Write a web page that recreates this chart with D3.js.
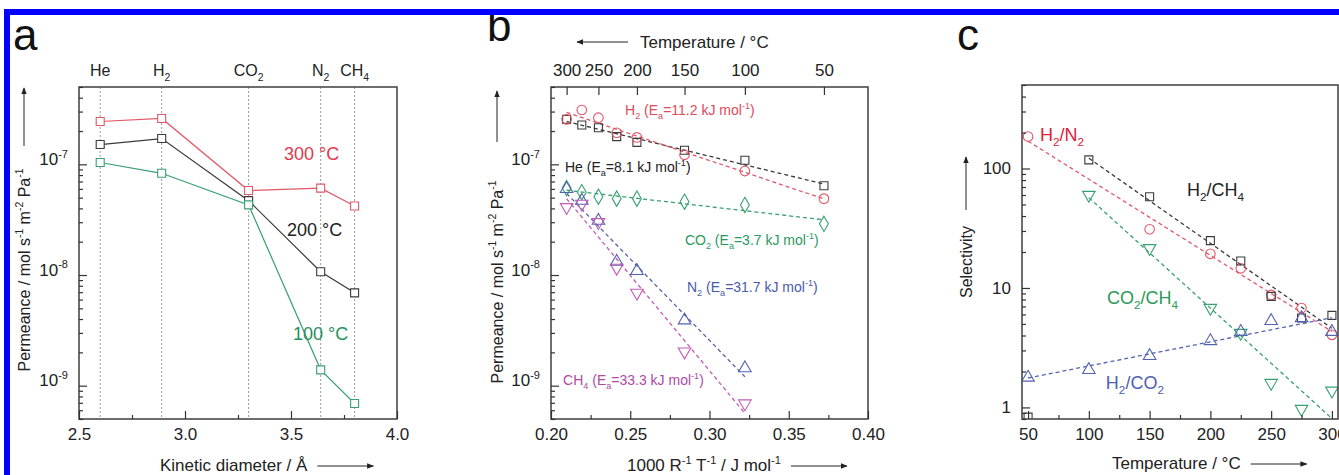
<!DOCTYPE html>
<html>
<head>
<meta charset="utf-8">
<script src="https://cdn.jsdelivr.net/npm/d3@7"></script>
<style>
body { margin: 0; background: #fff; }
svg { display: block; font-family: "Liberation Sans", Arial, sans-serif; }
</style>
</head>
<body>
<script>
// ---- panel a: permeance vs kinetic diameter
var gases = ["He", "H_{2}", "CO_{2}", "N_{2}", "CH_{4}"];
var kineticDiam = [2.6, 2.89, 3.3, 3.64, 3.8];
var perm300 = [2.44e-7, 2.6e-7, 5.8e-8, 6.1e-8, 4.2e-8];
var perm200 = [1.51e-7, 1.71e-7, 4.7e-8, 1.07e-8, 6.9e-9];
var perm100 = [1.04e-7, 8.3e-8, 4.3e-8, 1.39e-9, 6.9e-10];

// ---- panel b: Arrhenius plot
var tempsB = [300, 275, 250, 225, 200, 150, 100, 50];
var permHe = [2.55e-7, 2.27e-7, 2.14e-7, 1.78e-7, 1.58e-7, 1.34e-7, 1.09e-7, 6.4e-8];
var permH2 = [2.55e-7, 3.1e-7, 2.64e-7, 1.93e-7, 1.75e-7, 1.22e-7, 8.7e-8, 4.9e-8];
var permCO2 = [6.1e-8, 5.6e-8, 5.1e-8, 4.9e-8, 4.9e-8, 4.6e-8, 4.3e-8, 2.9e-8];
var permN2 = [6.0e-8, 4.7e-8, 3.1e-8, 1.32e-8, 1.09e-8, 3.9e-9, 1.44e-9, null];
var permCH4 = [4.1e-8, 4.4e-8, 3.0e-8, 1.16e-8, 6.9e-9, 2.03e-9, 6.9e-10, null];
var topTemps = [300, 250, 200, 150, 100, 50];

// ---- panel c: selectivity vs temperature
var tempsC = [50, 100, 150, 200, 225, 250, 275, 300];
var selH2N2 = [185, null, 31, 19.3, 14.6, 8.75, 6.8, 4.05];
var selH2CH4 = [0.83, 118, 58, 24.9, 16.8, 8.5, 5.6, 5.9];
var selCO2CH4 = [null, 60, 21.5, 6.8, 4.2, 1.6, 0.97, 1.38];
var selH2CO2 = [1.78, 2.06, 2.7, 3.6, 4.3, 5.3, 5.6, 4.3];

var RED = "#e05868", BLACK = "#3a3a3a", GREEN = "#38a070", BLUE = "#5463b0", MAGENTA = "#c25bb5";

var svg = d3.select("body").append("svg")
    .attr("width", 1339)
    .attr("height", 475);

var defs = svg.append("defs");
defs.append("marker")
    .attr("id", "arrow")
    .attr("viewBox", "0 0 10 10")
    .attr("refX", 9).attr("refY", 5)
    .attr("markerWidth", 7).attr("markerHeight", 7)
    .attr("markerUnits", "userSpaceOnUse")
    .attr("orient", "auto")
    .append("path")
    .attr("d", "M0,1L10,5L0,9Z")
    .attr("fill", "#222");

function invRT(t) {
    return 1000 / (8.314 * (t + 273.15));
}

// text with _{sub} and ^{sup}
function rich(sel, str, size) {
    sel.text(null);
    var parts = str.split(/([_^]\{[^}]*\})/).filter(function (s) { return s.length; });
    var shift = 0;
    parts.forEach(function (p) {
        var target = 0, txt = p, small = false;
        if (p[0] === "_" && p[1] === "{") { target = size * 0.3; txt = p.slice(2, -1); small = true; }
        else if (p[0] === "^" && p[1] === "{") { target = -size * 0.42; txt = p.slice(2, -1); small = true; }
        var t = sel.append("tspan").attr("dy", target - shift).text(txt);
        if (small) t.attr("font-size", size * 0.65);
        shift = target;
    });
}

function logMinors(lo, hi) {
    var out = [];
    for (var e = -11; e <= 3; e++) {
        for (var k = 2; k <= 9; k++) {
            var v = k * Math.pow(10, e);
            if (v >= lo && v <= hi) out.push(v);
        }
    }
    return out;
}

function logFit(xs, ys) {
    var pts = xs.map(function (x, i) { return [x, ys[i]]; })
        .filter(function (d) { return d[1] != null; });
    var mx = d3.mean(pts, function (d) { return d[0]; });
    var my = d3.mean(pts, function (d) { return Math.log10(d[1]); });
    var sxy = d3.sum(pts, function (d) { return (d[0] - mx) * (Math.log10(d[1]) - my); });
    var sxx = d3.sum(pts, function (d) { return (d[0] - mx) * (d[0] - mx); });
    var b = sxy / sxx, a = my - b * mx;
    return {
        x0: d3.min(pts, function (d) { return d[0]; }),
        x1: d3.max(pts, function (d) { return d[0]; }),
        f: function (x) { return Math.pow(10, a + b * x); }
    };
}

function frame(g, x, y, id) {
    var x0 = x.range()[0], x1 = x.range()[1], y0 = y.range()[1], y1 = y.range()[0];
    defs.append("clipPath").attr("id", id)
        .append("rect").attr("x", x0).attr("y", y0).attr("width", x1 - x0).attr("height", y1 - y0);
    return g.append("g").attr("clip-path", "url(#" + id + ")");
}

function drawBox(g, x, y) {
    g.append("rect")
        .attr("x", x.range()[0]).attr("y", y.range()[1])
        .attr("width", x.range()[1] - x.range()[0])
        .attr("height", y.range()[0] - y.range()[1])
        .attr("fill", "none")
        .attr("stroke", "#4a4a4a")
        .attr("stroke-width", 1.6);
}

function styleAxis(g) {
    g.select(".domain").remove();
    g.selectAll(".tick line").attr("stroke", "#333").attr("stroke-width", 1.2);
    g.selectAll(".tick text").attr("fill", "#222").attr("font-size", 17)
        .attr("font-family", "Liberation Sans, Arial, sans-serif");
}

function noText(g) {
    g.selectAll(".tick text").remove();
}

function bottomAxis(g, x, y, majors, minors, fmt) {
    g.append("g")
        .attr("transform", "translate(0," + y.range()[0] + ")")
        .call(d3.axisBottom(x).tickValues(minors).tickSize(-4))
        .call(styleAxis)
        .call(noText);
    g.append("g")
        .attr("transform", "translate(0," + y.range()[0] + ")")
        .call(d3.axisBottom(x).tickValues(majors).tickSize(-8).tickPadding(9).tickFormat(fmt))
        .call(styleAxis);
}

function leftAxis(g, x, y, majors, fmt, isPow) {
    var d = y.domain();
    g.append("g")
        .attr("transform", "translate(" + x.range()[0] + ",0)")
        .call(d3.axisLeft(y).tickValues(logMinors(d[0], d[1])).tickSize(-4))
        .call(styleAxis)
        .call(noText);
    var ax = g.append("g")
        .attr("transform", "translate(" + x.range()[0] + ",0)")
        .call(d3.axisLeft(y).tickValues(majors).tickSize(-8).tickPadding(11).tickFormat(fmt))
        .call(styleAxis);
    if (isPow) {
        ax.selectAll(".tick text").each(function (v) {
            rich(d3.select(this), "10^{" + Math.round(Math.log10(v)) + "}", 17);
        });
    }
}

function yTitle(g, str, cx, cy, arrowFrom, arrowTo) {
    g.append("text")
        .attr("transform", "translate(" + (cx + 6) + "," + cy + ") rotate(-90)")
        .attr("text-anchor", "middle")
        .attr("font-size", 16)
        .attr("fill", "#222")
        .call(rich, str, 16);
    g.append("line")
        .attr("x1", cx).attr("x2", cx)
        .attr("y1", arrowFrom).attr("y2", arrowTo)
        .attr("stroke", "#222").attr("stroke-width", 1)
        .attr("marker-end", "url(#arrow)");
}

function xTitle(g, str, x, y, dir) {
    var t = g.append("text")
        .attr("x", x).attr("y", y)
        .attr("font-size", 17)
        .attr("fill", "#222")
        .call(rich, str, 17);
    var w = t.node().getComputedTextLength();
    if (dir > 0) {
        g.append("line")
            .attr("x1", x + w + 10).attr("x2", x + w + 66)
            .attr("y1", y - 5).attr("y2", y - 5)
            .attr("stroke", "#222").attr("stroke-width", 1)
            .attr("marker-end", "url(#arrow)");
    } else {
        g.append("line")
            .attr("x1", x - 12).attr("x2", x - 63)
            .attr("y1", y - 6).attr("y2", y - 6)
            .attr("stroke", "#222").attr("stroke-width", 1)
            .attr("marker-end", "url(#arrow)");
    }
}

function label(g, str, x, y, color, size) {
    g.append("text")
        .attr("x", x).attr("y", y)
        .attr("font-size", size)
        .attr("fill", color)
        .call(rich, str, size);
}

function sym(type, area) {
    return d3.symbol().type(type).size(area)();
}

function points(g, xs, ys, x, y, color, shape, flip, fill) {
    var area = shape === d3.symbolCircle ? 72 : (shape === d3.symbolSquare ? 64 : 68);
    var data = xs.map(function (v, i) { return [v, ys[i]]; })
        .filter(function (d) { return d[1] != null; });
    g.selectAll(null)
        .data(data)
        .enter().append("path")
        .attr("d", sym(shape, area))
        .attr("transform", function (d) {
            return "translate(" + x(d[0]) + "," + y(d[1]) + ")" + (flip ? " rotate(180)" : "");
        })
        .attr("fill", fill || "none")
        .attr("stroke", color)
        .attr("stroke-width", 1.1);
}

function fitLine(g, xs, ys, x, y, color) {
    var fit = logFit(xs, ys);
    g.append("line")
        .attr("x1", x(fit.x0)).attr("y1", y(fit.f(fit.x0)))
        .attr("x2", x(fit.x1)).attr("y2", y(fit.f(fit.x1)))
        .attr("stroke", color)
        .attr("stroke-width", 1.3)
        .attr("stroke-dasharray", "4,3");
}

// ===================== panel a
var xa = d3.scaleLinear().domain([2.5, 4.0]).range([79, 397]);
var ya = d3.scaleLog().domain([5e-10, 5e-7]).range([419, 87]);
var gA = svg.append("g").attr("class", "panel-a");
var plotA = frame(gA, xa, ya, "clipA");

plotA.selectAll(".gasline")
    .data(kineticDiam)
    .enter().append("line")
    .attr("class", "gasline")
    .attr("x1", function (d) { return xa(d); })
    .attr("x2", function (d) { return xa(d); })
    .attr("y1", ya.range()[1]).attr("y2", ya.range()[0])
    .attr("stroke", "#999")
    .attr("stroke-width", 1)
    .attr("stroke-dasharray", "2,2");

[[perm300, RED], [perm200, BLACK], [perm100, GREEN]].forEach(function (s) {
    var pts = kineticDiam.map(function (k, i) { return [k, s[0][i]]; });
    plotA.append("path")
        .datum(pts)
        .attr("d", d3.line().x(function (d) { return xa(d[0]); }).y(function (d) { return ya(d[1]); }))
        .attr("fill", "none")
        .attr("stroke", s[1])
        .attr("stroke-width", 1.2);
    points(plotA, kineticDiam, s[0], xa, ya, s[1], d3.symbolSquare, false, "#fff");
});

drawBox(gA, xa, ya);
bottomAxis(gA, xa, ya, [2.5, 3.0, 3.5, 4.0], [2.75, 3.25, 3.75], d3.format(".1f"));
leftAxis(gA, xa, ya, [1e-9, 1e-8, 1e-7], null, true);

gA.selectAll(".gas")
    .data(gases)
    .enter().append("text")
    .attr("class", "gas")
    .attr("x", function (d, i) { return xa(kineticDiam[i]); })
    .attr("y", 76)
    .attr("text-anchor", "middle")
    .attr("font-size", 16)
    .attr("fill", "#222")
    .each(function (d) { rich(d3.select(this), d, 16); });

label(gA, "300 °C", xa(3.467), ya(1.09e-7), "#e03a4c", 18);
label(gA, "200 °C", xa(3.481), ya(2.25e-8), "#222", 18);
label(gA, "100 °C", xa(3.509), ya(2.59e-9), "#259060", 18);

yTitle(gA, "Permeance / mol s^{-1} m^{-2} Pa^{-1}", 24, 270, 146, 88);
xTitle(gA, "Kinetic diameter / Å", 160, 471, 1);

// ===================== panel b
var xb = d3.scaleLinear().domain([0.20, 0.40]).range([551, 868]);
var yb = d3.scaleLog().domain([5e-10, 5e-7]).range([419, 87]);
var gB = svg.append("g").attr("class", "panel-b");
var plotB = frame(gB, xb, yb, "clipB");
var invB = tempsB.map(invRT);
var seriesB = [
    [permHe, BLACK, d3.symbolSquare, false],
    [permH2, RED, d3.symbolCircle, false],
    [permCO2, GREEN, d3.symbolDiamond, false],
    [permN2, BLUE, d3.symbolTriangle, false],
    [permCH4, MAGENTA, d3.symbolTriangle, true]
];
seriesB.forEach(function (s) {
    fitLine(plotB, invB, s[0], xb, yb, s[1]);
});
seriesB.forEach(function (s) {
    points(plotB, invB, s[0], xb, yb, s[1], s[2], s[3]);
});

drawBox(gB, xb, yb);
bottomAxis(gB, xb, yb, [0.20, 0.25, 0.30, 0.35, 0.40], [0.225, 0.275, 0.325, 0.375], d3.format(".2f"));
leftAxis(gB, xb, yb, [1e-9, 1e-8, 1e-7], null, true);

gB.append("g")
    .attr("transform", "translate(0," + yb.range()[1] + ")")
    .call(d3.axisTop(xb).tickValues(topTemps.map(invRT)).tickSize(-8).tickPadding(11)
        .tickFormat(function (d, i) { return topTemps[i]; }))
    .call(styleAxis);

label(gB, "H_{2} (E_{a}=11.2 kJ mol^{-1})", xb(0.2467), yb(2.79e-7), "#e04a5a", 14);
label(gB, "He (E_{a}=8.1 kJ mol^{-1})", xb(0.2088), yb(8.5e-8), "#222", 14);
label(gB, "CO_{2} (E_{a}=3.7 kJ mol^{-1})", xb(0.2845), yb(1.87e-8), "#2a9a60", 14);
label(gB, "N_{2} (E_{a}=31.7 kJ mol^{-1})", xb(0.2858), yb(7.0e-9), "#4a5aa8", 14);
label(gB, "CH_{4} (E_{a}=33.3 kJ mol^{-1})", xb(0.2076), yb(1.01e-9), "#b04aa5", 14);

yTitle(gB, "Permeance / mol s^{-1} m^{-2} Pa^{-1}", 497, 282, 142, 91);
xTitle(gB, "1000 R^{-1} T^{-1} / J mol^{-1}", 627, 471, 1);
xTitle(gB, "Temperature / °C", 640, 48, -1);

// ===================== panel c
var xc = d3.scaleLinear().domain([45, 305]).range([1022, 1338]);
var yc = d3.scaleLog().domain([0.8, 500]).range([419, 85]);
var gC = svg.append("g").attr("class", "panel-c");
var plotC = frame(gC, xc, yc, "clipC");
var seriesC = [
    [selH2N2, RED, d3.symbolCircle, false, [50, 300]],
    [selH2CH4, BLACK, d3.symbolSquare, false, [100, 300]],
    [selCO2CH4, GREEN, d3.symbolTriangle, true, [100, 300]],
    [selH2CO2, BLUE, d3.symbolTriangle, false, [50, 300]]
];
seriesC.forEach(function (s) {
    var ys = s[0].map(function (v, i) {
        return (tempsC[i] >= s[4][0] && tempsC[i] <= s[4][1]) ? v : null;
    });
    fitLine(plotC, tempsC, ys, xc, yc, s[1]);
});
seriesC.forEach(function (s) {
    points(plotC, tempsC, s[0], xc, yc, s[1], s[2], s[3]);
});

drawBox(gC, xc, yc);
bottomAxis(gC, xc, yc, [50, 100, 150, 200, 250, 300], [75, 125, 175, 225, 275], d3.format("d"));
leftAxis(gC, xc, yc, [1, 10, 100], d3.format("d"), false);

label(gC, "H_{2}/N_{2}", xc(59.8), yc(170), "#e0203a", 18);
label(gC, "H_{2}/CH_{4}", xc(180.8), yc(58.9), "#222", 18);
label(gC, "CO_{2}/CH_{4}", xc(115), yc(7.35), "#2a9a5a", 18);
label(gC, "H_{2}/CO_{2}", xc(114), yc(1.43), "#5060b0", 18);

yTitle(gC, "Selectivity", 966, 262, 210, 157);
xTitle(gC, "Temperature / °C", 1112, 469, 1);

// panel letters
[["a", 13, 50], ["b", 487, 41], ["c", 957, 50]].forEach(function (p) {
    svg.append("text")
        .attr("x", p[1]).attr("y", p[2])
        .attr("font-size", 44)
        .attr("fill", "#111")
        .text(p[0]);
});

// blue outer frame
svg.append("rect")
    .attr("x", 7).attr("y", 12)
    .attr("width", 1500).attr("height", 600)
    .attr("fill", "none")
    .attr("stroke", "#0000ff")
    .attr("stroke-width", 6);
</script>
</body>
</html>
